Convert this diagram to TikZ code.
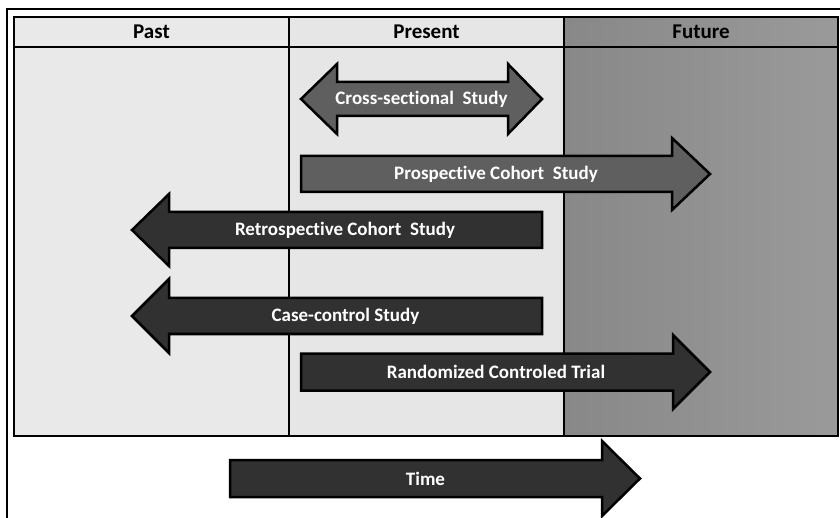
\documentclass[tikz,border=0pt]{standalone}
\usepackage{fontspec}
\setmainfont[Ligatures={TeX,NoCommon}]{Carlito}
\definecolor{pastfill}{HTML}{E9E9E9}
\definecolor{presfill}{HTML}{E6E6E6}
\definecolor{futA}{HTML}{888888}
\definecolor{futB}{HTML}{9A9A9A}
\definecolor{midgray}{HTML}{5F5F5F}
\definecolor{darkgray2}{HTML}{313131}
\newcommand\myRArrow[7]{\draw[#1] (#2,{#5-#6}) -- (#3,{#5-#6}) -- (#3,{#5-#7}) -- (#4,#5) -- (#3,{#5+#7}) -- (#3,{#5+#6}) -- (#2,{#5+#6}) -- cycle;}
\newcommand\myLArrow[7]{\draw[#1] (#4,{#5-#6}) -- (#3,{#5-#6}) -- (#3,{#5-#7}) -- (#2,#5) -- (#3,{#5+#7}) -- (#3,{#5+#6}) -- (#4,{#5+#6}) -- cycle;}
\newcommand\myDArrow[8]{\draw[#1] (#3,{#6-#7}) -- (#4,{#6-#7}) -- (#4,{#6-#8}) -- (#5,#6) -- (#4,{#6+#8}) -- (#4,{#6+#7}) -- (#3,{#6+#7}) -- (#3,{#6+#8}) -- (#2,#6) -- (#3,{#6-#8}) -- cycle;}
\begin{document}
\begin{tikzpicture}[x=1pt,y=-1pt,
  frame/.style={line width=2.5pt,draw=black},
  arrowbox/.style={draw=black,line width=2.5pt,line join=miter},
  midarrow/.style={arrowbox,fill=midgray},
  darkarrow/.style={arrowbox,fill=darkgray2},
  lbl/.style={text=white,font=\bfseries\fontsize{19}{22}\selectfont,inner sep=0pt},
  header/.style={font=\bfseries\fontsize{21}{24}\selectfont,text=black,inner sep=0pt}]
\useasboundingbox (0,0) rectangle (840,518);
\fill[white] (0,0) rectangle (840,518);
% outer frame
\draw[line width=2pt] (7,518) -- (7,9) -- (840,9);
% columns
\fill[pastfill] (14,17) rectangle (289,436);
\fill[presfill] (289,17) rectangle (564,436);
\shade[left color=futA,right color=futB] (564,17) rectangle (838,436);
\draw[frame] (14,17) rectangle (838,436);
\draw[frame] (14,47) -- (838,47);
\draw[frame] (289,17) -- (289,436);
\draw[frame] (564,17) -- (564,436);
\node[header] (past) at (151.5,32) {Past};
\node[header] (present) at (426.5,32) {Present};
\node[header] (future) at (701,32) {Future};
% arrows
\myDArrow{midarrow}{301}{337}{508}{542}{99}{17}{35}
\node[lbl] (cs) at (421.5,99) {Cross-sectional~ Study};
\myRArrow{midarrow}{301}{672}{710}{174}{18}{36}
\node[lbl] (pc) at (496,174) {Prospective Cohort~ Study};
\myLArrow{darkarrow}{132}{169}{542}{230}{18}{36}
\node[lbl] (rc) at (345,230) {Retrospective Cohort~ Study};
\myLArrow{darkarrow}{132}{169}{542}{316}{18}{37}
\node[lbl] (cc) at (345.5,316) {Case-control Study};
\myRArrow{darkarrow}{301}{673}{710}{372}{18.5}{37}
\node[lbl] (rct) at (496,372) {Randomized Controled Trial};
\myRArrow{darkarrow}{230}{602}{640}{478.5}{18.5}{37.5}
\node[lbl] (time) at (425.5,479) {Time};
\end{tikzpicture}
\end{document}
